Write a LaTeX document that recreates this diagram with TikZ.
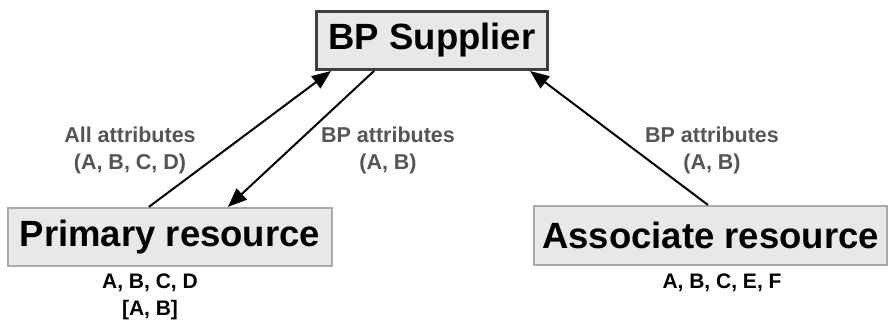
\documentclass[tikz,border=0pt]{standalone}
\usepackage{fontspec}
\setmainfont{Liberation Sans}
\usetikzlibrary{arrows.meta}
\definecolor{boxfill}{HTML}{E8E8E8}
\definecolor{darkborder}{HTML}{404040}
\definecolor{lightborder}{HTML}{AAAAAA}
\definecolor{labelgray}{HTML}{555555}
\tikzset{
  bigbox/.style={rectangle, fill=boxfill, inner sep=0pt, font=\fontsize{36.5}{40}\selectfont\bfseries},
  mainbox/.style={bigbox, draw=darkborder, line width=3pt},
  resbox/.style={bigbox, draw=lightborder, line width=2.2pt},
  flowlabel/.style={align=center, text=labelgray, font=\fontsize{21.5}{27}\selectfont\bfseries, inner sep=0pt},
  attrlabel/.style={align=center, text=black, font=\fontsize{21}{27}\selectfont\bfseries, inner sep=0pt},
  flow/.style={line width=2pt, -{Triangle[length=19pt,width=15pt]}}
}
\begin{document}
\begin{tikzpicture}[x=1pt,y=-1pt]
\useasboundingbox (0,0) rectangle (888,321);
\node[mainbox, minimum width=231pt, minimum height=58pt] (sup) at (432,40.5) {BP Supplier};
\node[resbox, minimum width=324pt, minimum height=58pt] (prim) at (170,237) {Primary resource};
\node[resbox, minimum width=353pt, minimum height=59pt] (assoc) at (710.5,235.5) {Associate resource};

\draw[flow] ([xshift=142pt]prim.north west) -- ([xshift=16pt]sup.south west);
\draw[flow] ([xshift=59pt]sup.south west) -- ([xshift=221pt]prim.north west);
\draw[flow] ([xshift=175pt]assoc.north west) -- ([xshift=215pt]sup.south west);

\node[flowlabel] (l1) at (130,150) {All attributes\\(A, B, C, D)};
\node[flowlabel] (l2) at (388,150) {BP attributes\\(A, B)};
\node[flowlabel] (l3) at (712,150) {BP attributes\\(A, B)};
\node[attrlabel] (l4) at (150,297) {A, B, C, D\\{}[A, B]};
\node[attrlabel, anchor=base] (l5) at (722,288) {A, B, C, E, F};
\end{tikzpicture}
\end{document}
